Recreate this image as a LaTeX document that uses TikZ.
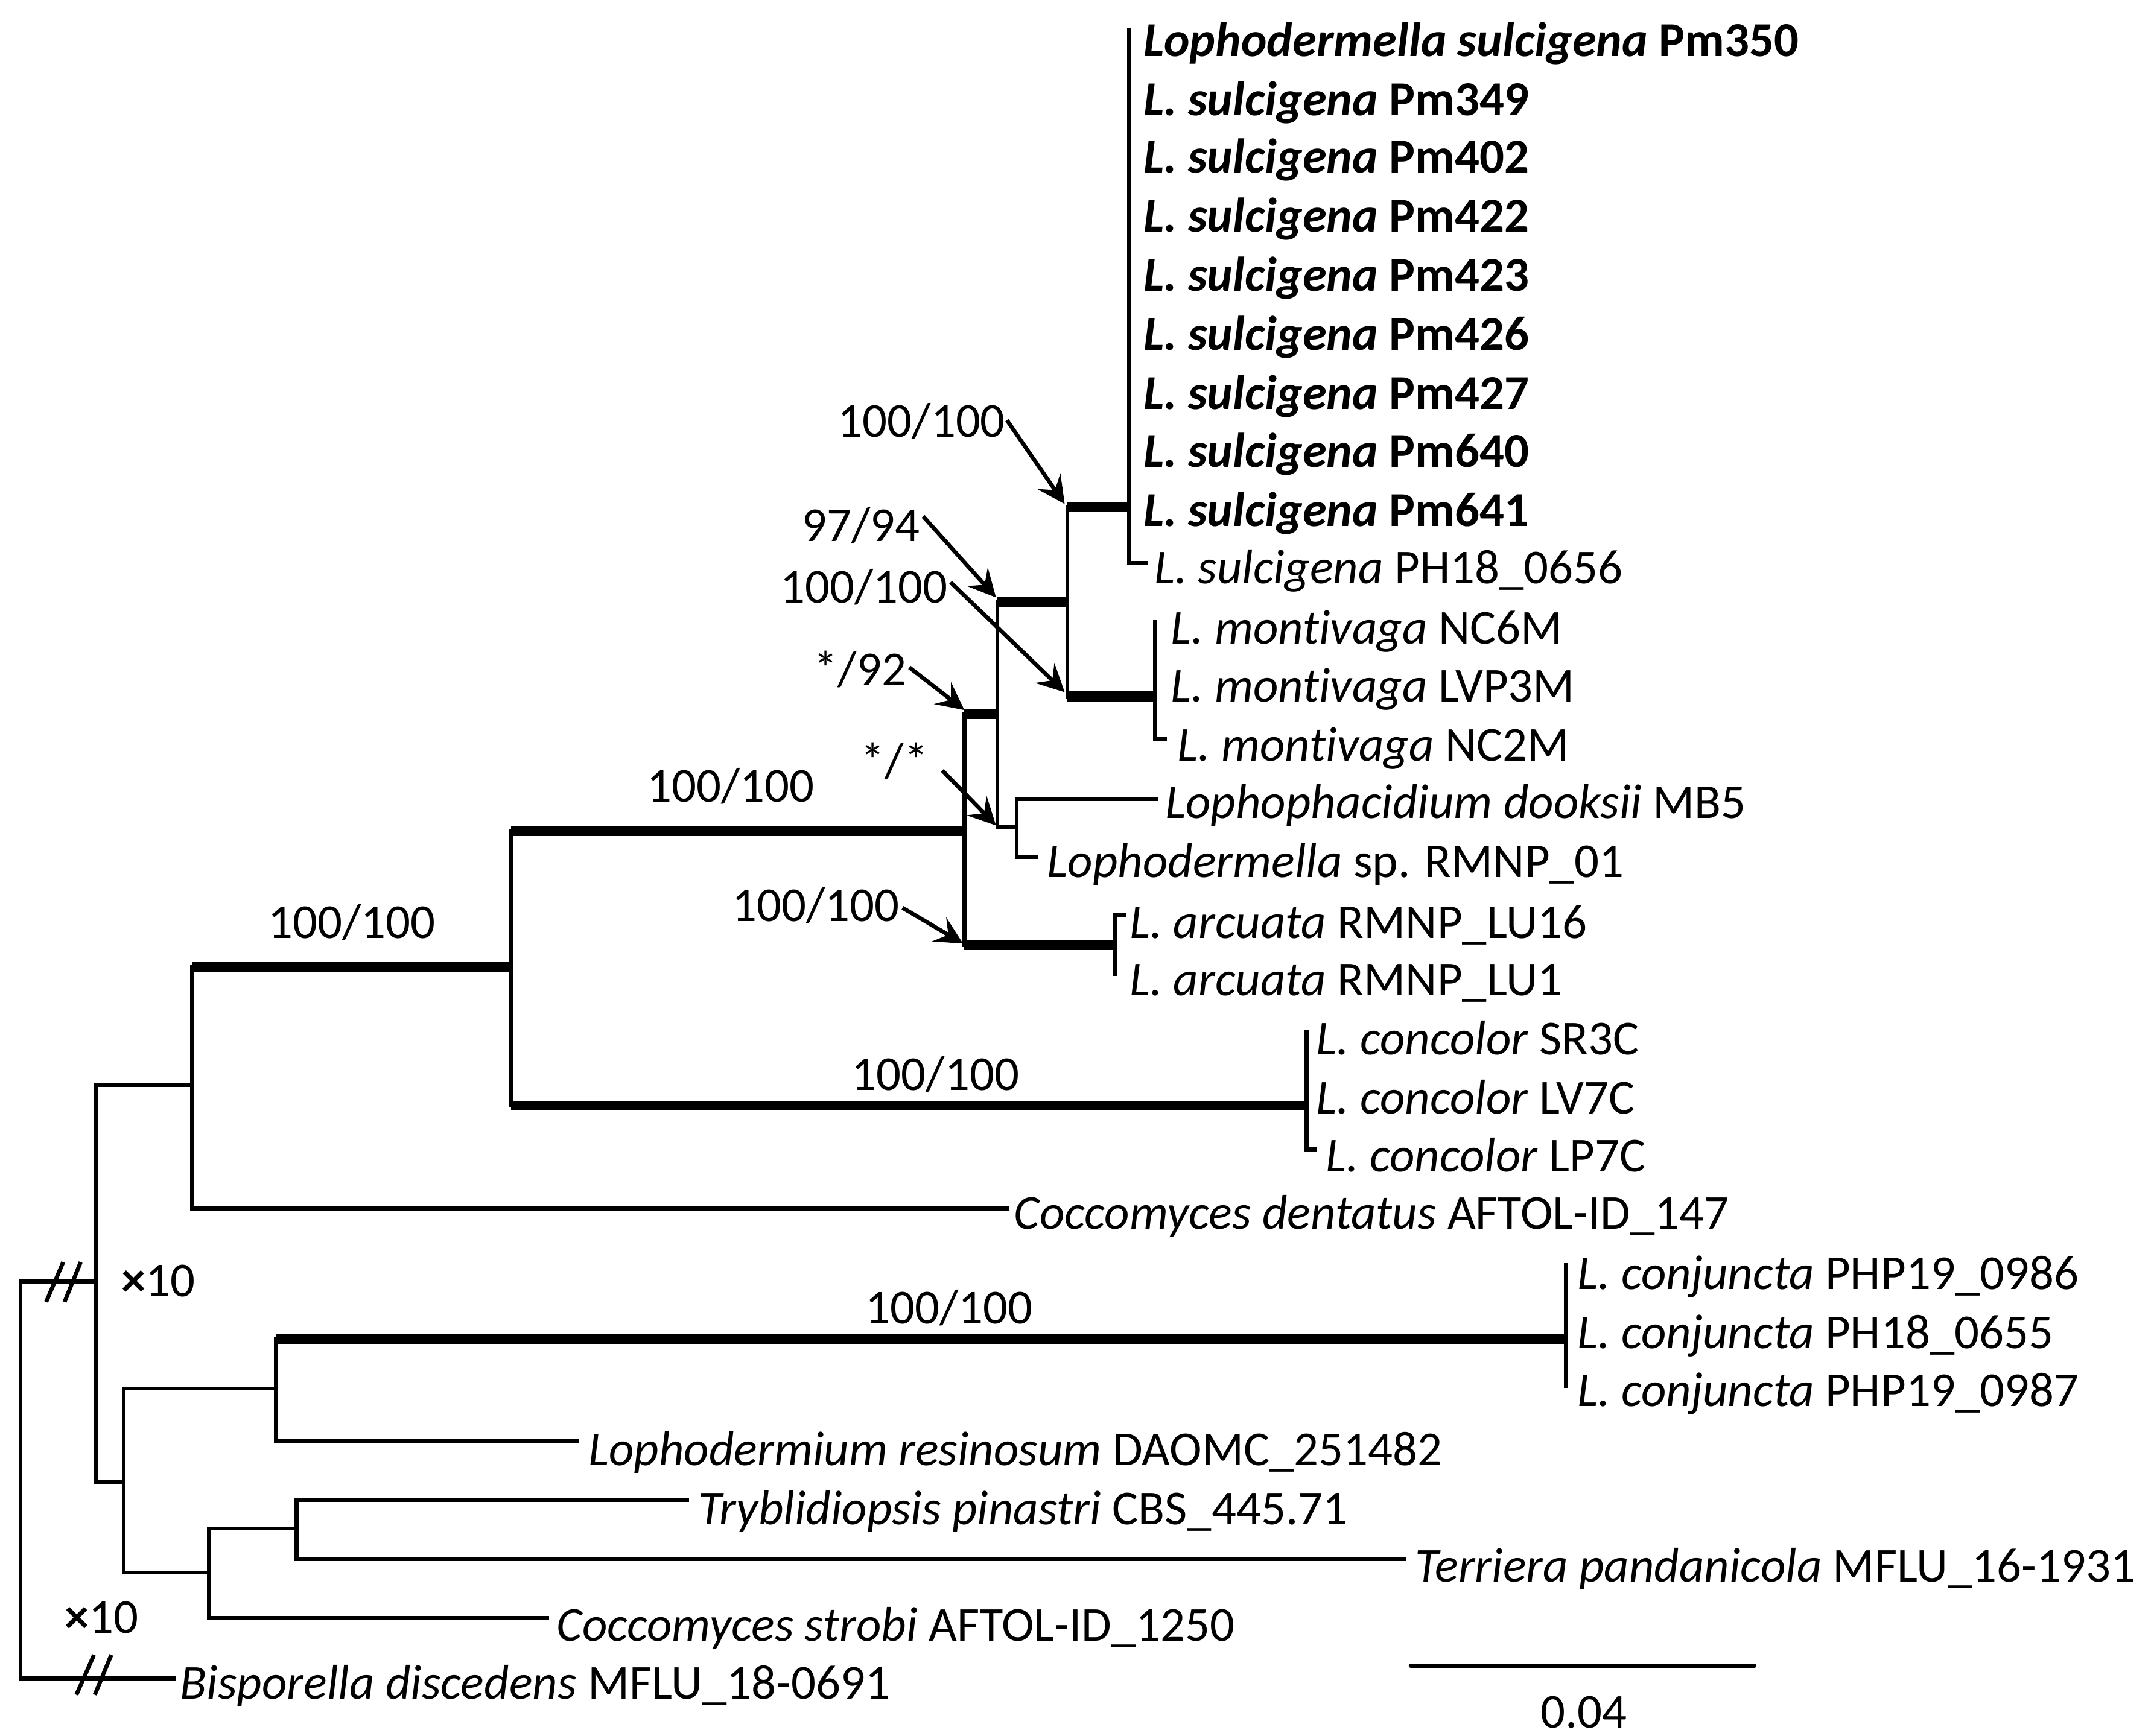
\documentclass[tikz,border=0pt]{standalone}
\usepackage{fontspec}
\setmainfont{Carlito}[Ligatures={NoCommon,NoRare}]
\usetikzlibrary{arrows.meta}
\begin{document}
\begin{tikzpicture}[x=0.022768cm,y=-0.022768cm,
  br/.style={line width=1.9pt,line cap=rect},
  thk/.style={line width=4.7pt},
  arr/.style={line width=1.9pt,-{Stealth[length=13pt,width=13pt,inset=5pt]}},
  leaf/.style={anchor=base west,inner sep=0pt,font=\fontsize{23}{27}\selectfont},
  lab/.style={inner sep=0pt,font=\fontsize{23}{27}\selectfont}]
\useasboundingbox (0,0) rectangle (1568,1264);
% ---------- coordinates of internal nodes ----------
\coordinate (G) at (777,438);
\coordinate (Gt) at (777,369);
\coordinate (Gb) at (777,507);
\coordinate (F) at (726,520);
\coordinate (Ft) at (726,438);
\coordinate (Fb) at (726,602);
\coordinate (H) at (740,602);
\coordinate (Ht) at (740,582);
\coordinate (Hb) at (740,624);
\coordinate (E) at (702,605);
\coordinate (Et) at (702,520);
\coordinate (Eb) at (702,688);
\coordinate (D) at (372,704);
\coordinate (Dt) at (372,605);
\coordinate (Db) at (372,805);
\coordinate (B) at (140,790);
\coordinate (Bt) at (140,704);
\coordinate (Bb) at (140,880);
\coordinate (A) at (70,933);
\coordinate (At) at (70,790);
\coordinate (Ab) at (70,1079);
\coordinate (C) at (90,1079);
\coordinate (Ct) at (90,1011);
\coordinate (Cb) at (90,1145);
\coordinate (I) at (201,1011);
\coordinate (It) at (201,975);
\coordinate (Ib) at (201,1049);
\coordinate (J) at (152,1145);
\coordinate (Jt) at (152,1113);
\coordinate (Jb) at (152,1178);
\coordinate (K) at (216,1113);
\coordinate (Kt) at (216,1092);
\coordinate (Kb) at (216,1135);
\coordinate (R) at (15,933);
\coordinate (Rb) at (15,1222);
% clade tips
\coordinate (S) at (822,369);
\coordinate (St) at (822,22);
\coordinate (Sb) at (822,410);
\coordinate (M) at (841,507);
\coordinate (Mt) at (841,453);
\coordinate (Mb) at (841,538);
\coordinate (Ar) at (812,688);
\coordinate (Art) at (812,666);
\coordinate (Arb) at (812,709);
\coordinate (Co) at (951,805);
\coordinate (Cot) at (951,751);
\coordinate (Cob) at (951,837);
\coordinate (Cj) at (1140,975);
\coordinate (Cjt) at (1140,921);
\coordinate (Cjb) at (1140,1009);
% ---------- leaf line ends ----------
\coordinate (eS) at (834,410);
\coordinate (eM) at (848,538);
\coordinate (eDk) at (842,582);
\coordinate (eSp) at (754,624);
\coordinate (eAr) at (818,666);
\coordinate (eCo) at (957,837);
\coordinate (eDe) at (733,880);
\coordinate (eRe) at (420,1049);
\coordinate (eTr) at (500,1092);
\coordinate (eTe) at (1022,1135);
\coordinate (eCs) at (398,1178);
\coordinate (eBi) at (127,1222);
% ---------- branches ----------
\draw[br] (St) -- (Sb) -- (eS);
\draw[thk] (Gt) -- (S);
\draw[br] (Mt) -- (Mb) -- (eM);
\draw[thk] (Gb) -- (M);
\draw[br] (Gt) -- (Gb);
\draw[thk] (F |- G) -- (G);
\draw[br] (Ft) -- (Fb) -- (H);
\draw[br] (Ht) -- (Hb);
\draw[br] (Ht) -- (eDk);
\draw[br] (Hb) -- (eSp);
\draw[thk] (Et) -- (F);
\draw[br] (Et) -- (Eb);
\draw[thk] (Eb) -- (Ar);
\draw[br] (eAr) -- (Art) -- (Arb);
\draw[thk] (Dt) -- (E);
\draw[br] (Dt) -- (Db);
\draw[thk] (Db) -- (Co);
\draw[br] (Cot) -- (Cob) -- (eCo);
\draw[thk] (Bt) -- (D);
\draw[br] (Bt) -- (Bb) -- (eDe);
\draw[br] (At) -- (B);
\draw[br] (At) -- (Ab) -- (C);
\draw[br] (Ct) -- (Cb) -- (J);
\draw[br] (Ct) -- (I);
\draw[br] (It) -- (Ib) -- (eRe);
\draw[thk] (It) -- (Cj);
\draw[br] (Cjt) -- (Cjb);
\draw[br] (Jt) -- (Jb) -- (eCs);
\draw[br] (Jt) -- (K);
\draw[br] (Kt) -- (Kb) -- (eTe);
\draw[br] (Kt) -- (eTr);
\draw[br] (A) -- (R) -- (Rb) -- (eBi);
% break marks
\draw[br,line cap=butt] (33.6,948) -- (46,919);
\draw[br,line cap=butt] (47,948) -- (58.7,919);
\draw[br,line cap=butt] (55.6,1234) -- (68.4,1205);
\draw[br,line cap=butt] (69,1234) -- (81,1205);
% ---------- leaf labels ----------
\node[leaf] (l1) at (832,41) {\textbf{\textit{Lophodermella sulcigena}} \textbf{Pm350}};
\node[leaf] (l2) at (832,84) {\textbf{\textit{L. sulcigena}} \textbf{Pm349}};
\node[leaf] (l3) at (832,126) {\textbf{\textit{L. sulcigena}} \textbf{Pm402}};
\node[leaf] (l4) at (832,169) {\textbf{\textit{L. sulcigena}} \textbf{Pm422}};
\node[leaf] (l5) at (832,212) {\textbf{\textit{L. sulcigena}} \textbf{Pm423}};
\node[leaf] (l6) at (832,255) {\textbf{\textit{L. sulcigena}} \textbf{Pm426}};
\node[leaf] (l7) at (832,298) {\textbf{\textit{L. sulcigena}} \textbf{Pm427}};
\node[leaf] (l8) at (832,340) {\textbf{\textit{L. sulcigena}} \textbf{Pm640}};
\node[leaf] (l9) at (832,383) {\textbf{\textit{L. sulcigena}} \textbf{Pm641}};
\node[leaf] (l10) at (840,425) {\textit{L. sulcigena} PH18\_0656};
\node[leaf] (l11) at (852,469) {\textit{L. montivaga} NC6M};
\node[leaf] (l12) at (852,511) {\textit{L. montivaga} LVP3M};
\node[leaf] (l13) at (857,554) {\textit{L. montivaga} NC2M};
\node[leaf] (l14) at (848,596) {\textit{Lophophacidium dooksii} MB5};
\node[leaf] (l15) at (762,639) {\textit{Lophodermella} sp. RMNP\_01};
\node[leaf] (l16) at (822,683) {\textit{L. arcuata} RMNP\_LU16};
\node[leaf] (l17) at (822,725) {\textit{L. arcuata} RMNP\_LU1};
\node[leaf] (l18) at (958,768) {\textit{L. concolor} SR3C};
\node[leaf] (l19) at (958,811) {\textit{L. concolor} LV7C};
\node[leaf] (l20) at (965,853) {\textit{L. concolor} LP7C};
\node[leaf] (l21) at (738,895) {\textit{Coccomyces dentatus} AFTOL-ID\_147};
\node[leaf] (l22) at (1148,939) {\textit{L. conjuncta} PHP19\_0986};
\node[leaf] (l23) at (1148,982) {\textit{L. conjuncta} PH18\_0655};
\node[leaf] (l24) at (1148,1024) {\textit{L. conjuncta} PHP19\_0987};
\node[leaf] (l25) at (428,1067) {\textit{Lophodermium resinosum} DAOMC\_251482};
\node[leaf] (l26) at (508,1110) {\textit{Tryblidiopsis pinastri} CBS\_445.71};
\node[leaf] (l27) at (1030,1152) {\textit{Terriera pandanicola} MFLU\_16-1931};
\node[leaf] (l28) at (405,1195) {\textit{Coccomyces strobi} AFTOL-ID\_1250};
\node[leaf] (l29) at (131,1237) {\textit{Bisporella discedens} MFLU\_18-0691};
% ---------- support values ----------
\node[lab,anchor=base east] (b1) at (732,318) {100/100};
\node[lab,anchor=base east] (b2) at (670,394) {97/94};
\node[lab,anchor=base east] (b3) at (690,439) {100/100};
\node[lab,anchor=base east] (b4) at (660,499) {*/92};
\node[lab,anchor=base east] (b5) at (676,566) {*/*};
\node[lab,anchor=base east] (b6) at (655,671) {100/100};
\node[lab,anchor=base] (c1) at (532,584) {100/100};
\node[lab,anchor=base] (c2) at (256,683) {100/100};
\node[lab,anchor=base] (c3) at (681,794) {100/100};
\node[lab,anchor=base] (c4) at (691,964) {100/100};
\node[lab,anchor=base west] (x1) at (88,944) {\textbf{×}10};
\node[lab,anchor=base west] (x2) at (47,1189) {\textbf{×}10};
% arrows
\coordinate (a1) at (733,306);
\coordinate (a2) at (672,376);
\coordinate (a3) at (692,424);
\coordinate (a4) at (662,486);
\coordinate (a5) at (686,561);
\coordinate (a6) at (657,661);
\draw[arr] (a1) -- (775,367);
\draw[arr] (a2) -- (725,435);
\draw[arr] (a3) -- (775,504);
\draw[arr] (a4) -- (702,517);
\draw[arr] (a5) -- (725,601);
\draw[arr] (a6) -- (701,687);
% scale bar
\coordinate (sb1) at (1027,1213);
\coordinate (sb2) at (1277,1213);
\draw[line width=2pt,line cap=round] (sb1) -- (sb2);
\node[lab,anchor=base] (sbl) at (1153,1258) {0.04};
\end{tikzpicture}
\end{document}
